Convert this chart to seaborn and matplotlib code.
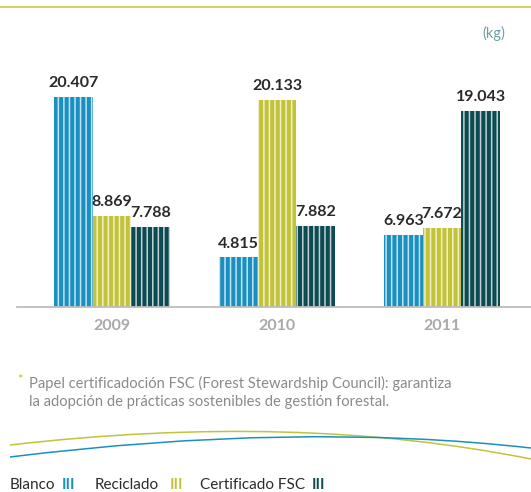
import seaborn as sns
import pandas as pd
import matplotlib.pyplot as plt
from matplotlib.path import Path
from matplotlib.patches import PathPatch

# data
years = ['2009', '2010', '2011']
series = ['Blanco', 'Reciclado', 'Certificado FSC']
blanco = [20407, 4815, 6963]
reciclado = [8869, 20133, 7672]
certificado = [7788, 7882, 19043]

colors = ['#1a90c2', '#c3c33a', '#0c4b52']

df = pd.DataFrame({
    'Year': years * 3,
    'Tipo': [s for s in series for _ in years],
    'kg': blanco + reciclado + certificado,
})

sns.set_theme(style='white')
plt.rcParams['font.family'] = ['Lato', 'DejaVu Sans']
plt.rcParams['hatch.linewidth'] = 1.1

W, H = 531, 492
fig = plt.figure(figsize=(W / 100, H / 100), dpi=100)

# overlay axes in pixel coordinates for decorations and texts
deco = fig.add_axes([0, 0, 1, 1], zorder=0)
deco.set_xlim(0, W)
deco.set_ylim(H, 0)
deco.axis('off')

ax = fig.add_axes([17 / W, (H - 307) / H, 1 - 17 / W, 247 / H], zorder=1)
ax.patch.set_alpha(0)

sns.barplot(data=df, x='Year', y='kg', hue='Tipo', hue_order=series,
            palette=colors, width=0.7, saturation=1, linewidth=0,
            edgecolor=(1, 1, 1, 0.7), legend=False, ax=ax)

for p in ax.patches:
    p.set_hatch('|||')
    p.set_edgecolor((1, 1, 1, 0.75))
    p.set_linewidth(0)

for cont in ax.containers:
    labels = [f'{int(v):,}'.replace(',', '.') for v in cont.datavalues]
    ax.bar_label(cont, labels=labels, padding=5, fontsize=11.5,
                 fontweight='bold', color='#2a2a2a')

ax.set_ylim(0, 24000)
ax.set_xlim(-0.576, 2.539)
ax.set_xlabel('')
ax.set_ylabel('')
ax.set_yticks([])
for s in ['top', 'left', 'right']:
    ax.spines[s].set_visible(False)
ax.spines['bottom'].set_color('#bdbdbd')
ax.spines['bottom'].set_linewidth(1.3)
ax.tick_params(axis='x', length=0, pad=9, labelsize=11.5, labelcolor='#a9a9a9')
for t in ax.get_xticklabels():
    t.set_fontweight('bold')

# decorations
deco.plot([0, W], [7, 7], color='#c3c33a', lw=1.1)
deco.text(505, 33, '(kg)', color='#6f9ea3', fontsize=10.5, ha='right', va='center')

deco.text(17, 380, '*', color='#c3c33a', fontsize=9.5, ha='left', va='center')
deco.text(29, 376, 'Papel certificadoción FSC (Forest Stewardship Council): garantiza\n'
          'la adopción de prácticas sostenibles de gestión forestal.',
          color='#8a8a8a', fontsize=10.6, ha='left', va='top', linespacing=1.35)

curves = {
    '#c3c33a': [(10, 445), (295.5, 412), (531, 459)],
    '#1a90c2': [(10, 457), (295.5, 421.5), (531, 448)],
}
for c, pts in curves.items():
    path = Path(pts, [Path.MOVETO, Path.CURVE3, Path.CURVE3])
    deco.add_patch(PathPatch(path, facecolor='none', edgecolor=c, lw=1.1))

legend_items = [(10, 62, 'Blanco'), (95, 170, 'Reciclado'), (200, 312, 'Certificado FSC')]
for (xt, xm, name), c in zip(legend_items, colors):
    deco.text(xt, 489, name, color='#2b2b2b', fontsize=11, ha='left', va='baseline')
    deco.text(xm, 489, 'III', color=c, fontsize=11, fontweight='bold', ha='left', va='baseline')

fig.savefig('out.png', dpi=100, facecolor='white')
